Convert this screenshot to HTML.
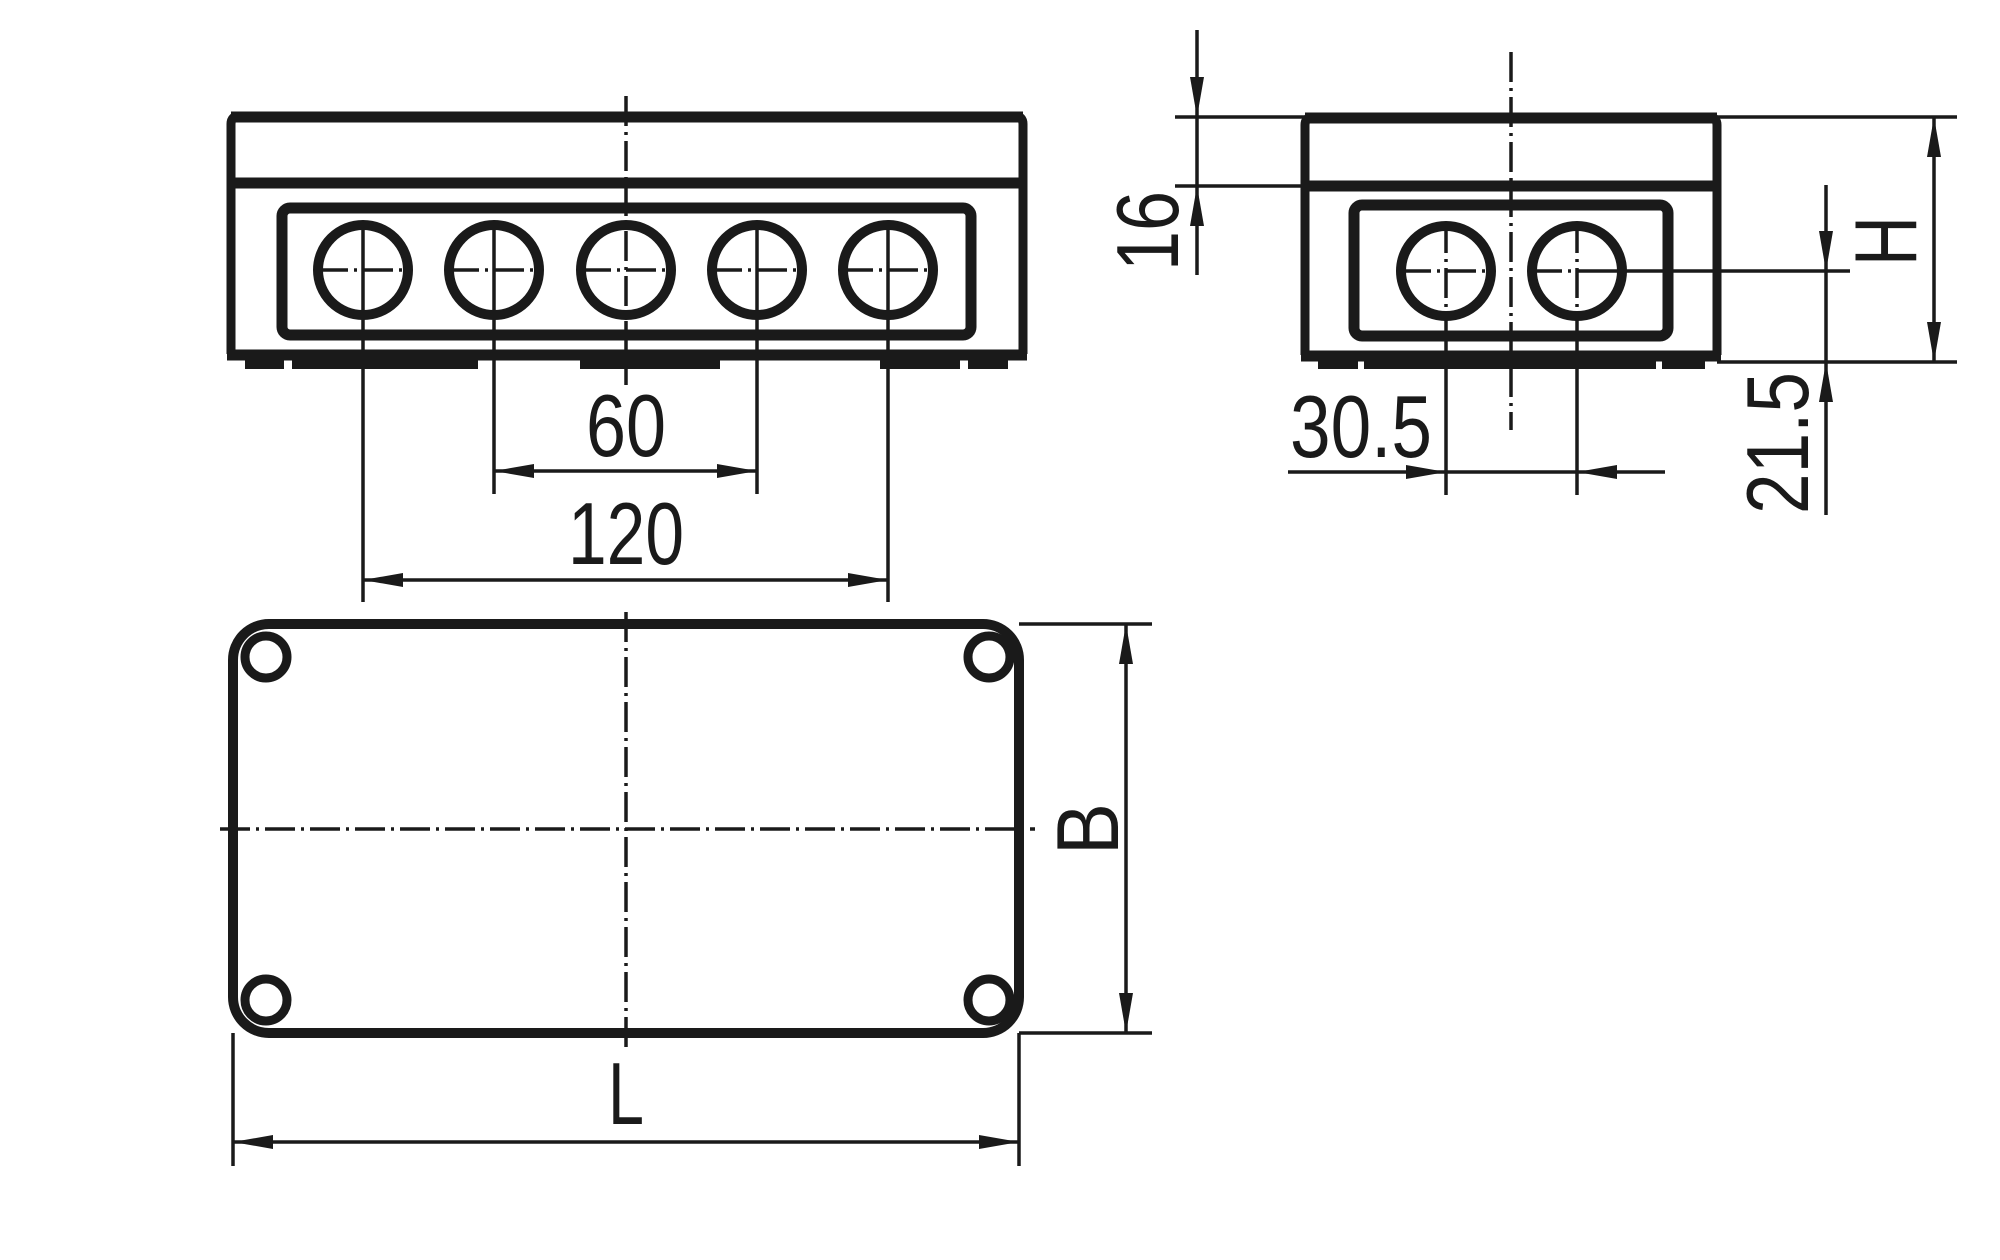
<!DOCTYPE html>
<html><head><meta charset="utf-8"><style>
html,body{margin:0;padding:0;background:#fff;}
svg{display:block;}
text{font-family:"Liberation Sans Narrow","Liberation Sans",sans-serif;fill:#1a1a1a;}
</style></head><body>
<svg width="2000" height="1260" viewBox="0 0 2000 1260" xmlns="http://www.w3.org/2000/svg">
<g stroke="#1a1a1a" fill="none" stroke-linecap="butt">
<!-- FRONT VIEW -->
<path d="M231 354 V124 Q231 116 239 116 H1015 Q1023 116 1023 124 V354" stroke-width="9"/>
<line x1="231" y1="117" x2="1023" y2="117" stroke-width="11"/>
<line x1="231" y1="183" x2="1023" y2="183" stroke-width="11"/>
<line x1="227" y1="355" x2="1027" y2="355" stroke-width="11"/>
<path d="M245 364 H284 M292 364 H478 M580 364 H720 M880 364 H960 M968 364 H1008" stroke-width="10"/>
<rect x="282" y="208" width="689" height="127" rx="8" stroke-width="11"/>
<g stroke-width="10">
<circle cx="363" cy="270" r="45"/><circle cx="494" cy="270" r="45"/><circle cx="626" cy="270" r="45"/><circle cx="757" cy="270" r="45"/><circle cx="888" cy="270" r="45"/>
</g>
<g stroke-width="3.5" stroke-dasharray="30 6 3 6">
<line x1="318" y1="270" x2="408" y2="270"/><line x1="449" y1="270" x2="539" y2="270"/><line x1="581" y1="270" x2="671" y2="270"/><line x1="712" y1="270" x2="802" y2="270"/><line x1="843" y1="270" x2="933" y2="270"/>
<line x1="626" y1="96" x2="626" y2="385"/>
</g>
<g stroke-width="3.5">
<line x1="363" y1="222" x2="363" y2="602"/><line x1="888" y1="222" x2="888" y2="602"/>
<line x1="494" y1="222" x2="494" y2="494"/><line x1="757" y1="222" x2="757" y2="494"/>
<line x1="494" y1="471" x2="757" y2="471"/>
<line x1="363" y1="580" x2="888" y2="580"/>
</g>
<!-- PLAN VIEW -->
<rect x="233" y="624" width="786" height="409" rx="36" stroke-width="10"/>
<g stroke-width="9">
<circle cx="266" cy="657" r="21"/><circle cx="989" cy="657" r="21"/><circle cx="266" cy="1000" r="21"/><circle cx="989" cy="1000" r="21"/>
</g>
<g stroke-width="3.5" stroke-dasharray="30 6 3 6">
<line x1="626" y1="612" x2="626" y2="1050"/>
<line x1="220" y1="829" x2="1035" y2="829"/>
</g>
<g stroke-width="3.5">
<line x1="1019" y1="624" x2="1152" y2="624"/><line x1="1019" y1="1033" x2="1152" y2="1033"/>
<line x1="1126" y1="624" x2="1126" y2="1033"/>
<line x1="233" y1="1033" x2="233" y2="1166"/><line x1="1019" y1="1033" x2="1019" y2="1166"/>
<line x1="233" y1="1142" x2="1019" y2="1142"/>
</g>
<!-- SIDE VIEW -->
<path d="M1305 355 V125 Q1305 117 1313 117 H1709 Q1717 117 1717 125 V355" stroke-width="9"/>
<line x1="1305" y1="118" x2="1717" y2="118" stroke-width="11"/>
<line x1="1305" y1="186" x2="1717" y2="186" stroke-width="11"/>
<line x1="1301" y1="356" x2="1721" y2="356" stroke-width="11"/>
<path d="M1318 364 H1358 M1364 364 H1656 M1662 364 H1705" stroke-width="10"/>
<rect x="1354" y="205" width="314" height="131" rx="8" stroke-width="11"/>
<g stroke-width="10"><circle cx="1446" cy="271" r="45"/><circle cx="1577" cy="271" r="45"/></g>
<g stroke-width="3.5" stroke-dasharray="30 6 3 6">
<line x1="1401" y1="271" x2="1491" y2="271"/><line x1="1532" y1="271" x2="1577" y2="271"/>
<line x1="1446" y1="223" x2="1446" y2="319"/><line x1="1577" y1="223" x2="1577" y2="319"/>
<line x1="1511" y1="52" x2="1511" y2="430"/>
</g>
<g stroke-width="3.5">
<line x1="1577" y1="271" x2="1850" y2="271"/>
<line x1="1175" y1="117" x2="1305" y2="117"/><line x1="1717" y1="117" x2="1957" y2="117"/>
<line x1="1175" y1="186" x2="1305" y2="186"/>
<line x1="1717" y1="362" x2="1957" y2="362"/>
<line x1="1197" y1="30" x2="1197" y2="275"/>
<line x1="1934" y1="117" x2="1934" y2="362"/>
<line x1="1826" y1="185" x2="1826" y2="515"/>
<line x1="1446" y1="319" x2="1446" y2="495"/><line x1="1577" y1="319" x2="1577" y2="495"/>
<line x1="1288" y1="472" x2="1665" y2="472"/>
</g>
</g>
<!-- arrowheads -->
<g fill="#1a1a1a">
<polygon points="494,471 534,464 534,478"/><polygon points="757,471 717,464 717,478"/>
<polygon points="363,580 403,573 403,587"/><polygon points="888,580 848,573 848,587"/>
<polygon points="233,1142 273,1135 273,1149"/><polygon points="1019,1142 979,1135 979,1149"/>
<polygon points="1126,624 1119,664 1133,664"/><polygon points="1126,1033 1119,993 1133,993"/>
<polygon points="1934,117 1927,157 1941,157"/><polygon points="1934,362 1927,322 1941,322"/>
<polygon points="1197,117 1190,77 1204,77"/><polygon points="1197,186 1190,226 1204,226"/>
<polygon points="1826,271 1819,231 1833,231"/><polygon points="1826,362 1819,402 1833,402"/>
<polygon points="1446,472 1406,465 1406,479"/><polygon points="1577,472 1617,465 1617,479"/>
</g>
<!-- labels -->
<g font-size="88">
<text x="626" y="456" text-anchor="middle" textLength="80" lengthAdjust="spacingAndGlyphs">60</text>
<text x="626" y="564" text-anchor="middle" textLength="116" lengthAdjust="spacingAndGlyphs">120</text>
<text x="626" y="1124" text-anchor="middle" textLength="36" lengthAdjust="spacingAndGlyphs">L</text>
<text x="1290" y="457" textLength="142" lengthAdjust="spacingAndGlyphs">30.5</text>
<text transform="translate(1118,829) rotate(-90)" text-anchor="middle" textLength="52" lengthAdjust="spacingAndGlyphs">B</text>
<text transform="translate(1178,231) rotate(-90)" text-anchor="middle" textLength="80" lengthAdjust="spacingAndGlyphs">16</text>
<text transform="translate(1916,241) rotate(-90)" text-anchor="middle" textLength="50" lengthAdjust="spacingAndGlyphs">H</text>
<text transform="translate(1808,443) rotate(-90)" text-anchor="middle" textLength="142" lengthAdjust="spacingAndGlyphs">21.5</text>
</g>
</svg>
</body></html>
